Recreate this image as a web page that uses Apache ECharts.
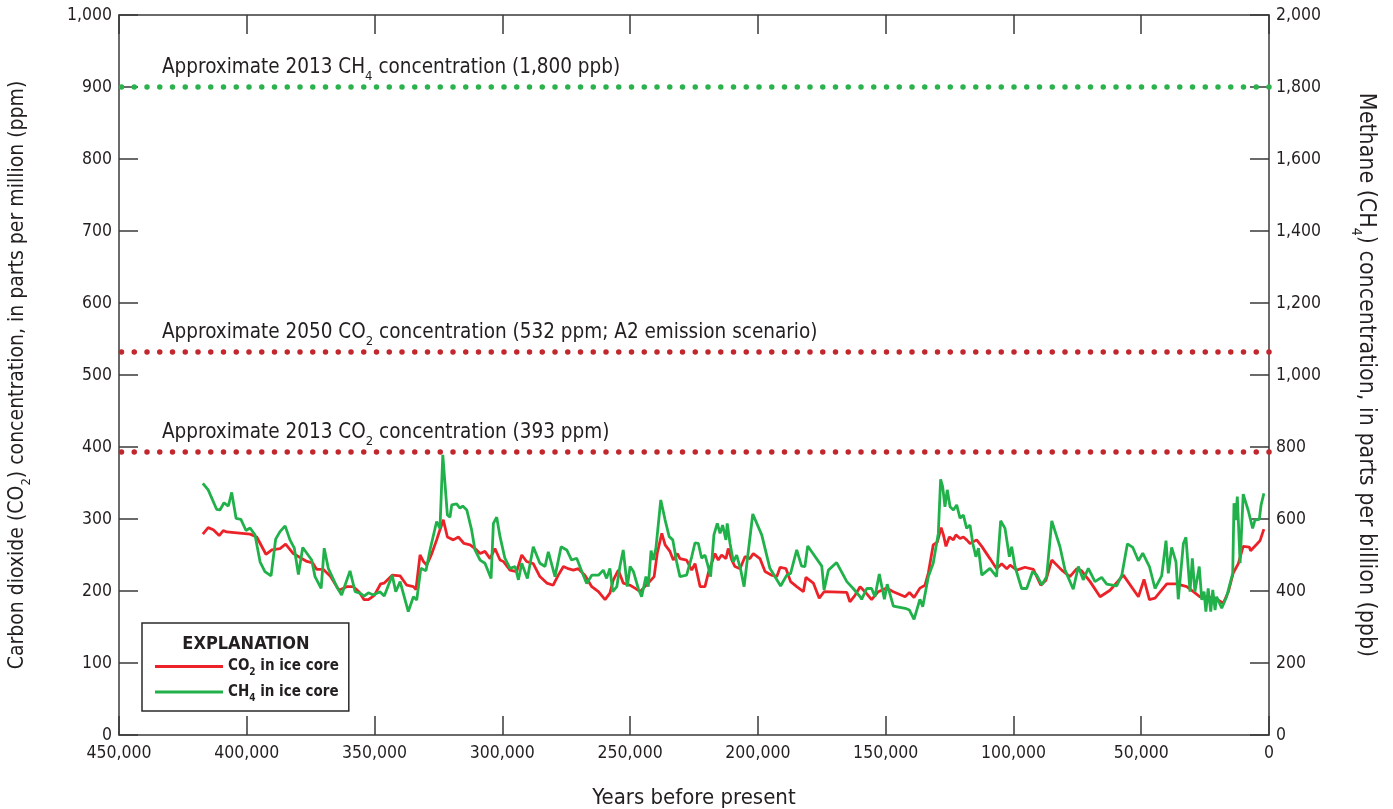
<!DOCTYPE html>
<html>
<head>
<meta charset="utf-8">
<script src="https://cdn.jsdelivr.net/npm/echarts@6/dist/echarts.min.js"></script>
<style>
html,body{margin:0;padding:0;background:#fff;}
#chart{width:1393px;height:809px;}
</style>
</head>
<body>
<div id="chart"></div>
<script>
// ---------- data (years before present, values) ----------
var co2Years = [417200,415100,413100,410800,409200,407900,398700,396100,392500,390200,387000,384800,381800,376500,374200,372600,370000,367400,363900,360900,358300,356100,354100,352400,350100,347600,346200,343100,340000,
337400,334800,333800,332200,330900,329600,327600,325700,324700,323700,323100,321500,319200,317200,315000,312600,310700,308700,306800,304800,302900,300900,299600,297000,294400,292400,290500,287900,285300,282600,280100,278100,276100,274200,272200,270300,267700,265000,262400,259800,257900,256600,254600,252700,250000,
248100,246100,244800,242900,240600,239400,237600,236300,234400,233100,231500,230500,227900,225900,224600,222600,220700,219400,216800,215500,214200,212500,211600,210200,209000,207000,205000,203100,201800,199200,197200,194600,192600,191300,189000,187200,184800,182200,181200,178300,176000,174100,165200,164000,162000,160000,
158100,155500,152900,149600,147000,142400,140700,138900,136600,134600,133300,131400,129800,128300,127400,126400,125100,123500,122500,120900,119600,118300,117000,114400,112400,109200,106600,104600,102600,101300,98700,95500,92200,89300,87300,85000,81100,77900,
75200,73300,70000,66100,62200,57000,51100,48900,46800,44600,40000,36100,32200,29600,27000,24400,21100,17900,15900,14000,12000,10100,7700,7200,4800,3500,2000];
var co2Ppm = [279,288,285,277,284,282,279,275,251,257,259,265,252,241,239,230,230,221,201,206,206,199,188,188,194,210,211,222,221,
208,206,202,250,241,236,252,271,282,292,299,275,271,275,266,264,259,252,255,245,259,243,241,229,227,250,241,238,220,211,208,222,234,231,229,231,222,206,199,188,197,215,229,211,208,
204,199,204,211,220,252,280,264,255,243,252,245,243,229,238,206,206,225,252,243,250,245,259,243,234,231,248,245,252,245,227,222,220,233,231,213,206,199,219,211,190,199,198,185,194,206,
199,188,199,204,199,192,198,191,204,208,225,264,268,288,278,262,275,271,278,273,275,271,266,271,262,245,231,238,231,236,229,233,230,208,215,243,229,220,
231,228,213,192,201,222,192,216,188,190,210,210,206,199,192,192,190,183,199,225,238,262,261,256,265,270,286];

var ch4Years = [417200,415100,411800,410500,408900,407200,405900,404200,402300,400300,398700,396800,394800,392900,390500,388700,387000,385000,383100,381400,379800,378100,374600,373300,370900,369700,368100,364800,362900,359600,357600,355700,354100,352400,350500,347900,346200,343100,341700,340000,
336800,334800,333500,331900,329900,328300,325700,324400,323300,321500,320500,319800,317900,316600,315500,313900,312000,310700,308700,306800,304400,303500,302200,300900,299000,297000,295000,293700,292400,290200,287900,285300,283300,282000,279400,277000,274800,272900,270900,268900,267000,265000,262400,260500,259200,257900,256800,255200,254000,252700,251100,250000,
248700,246800,245500,243800,242900,241800,240900,239900,238000,236300,234700,233300,231800,230500,227900,225900,224600,223300,222000,220700,219800,218500,217200,215900,214800,213800,212500,212000,210900,209600,208300,206700,205400,202000,198500,195300,191100,188700,187200,184800,182900,181600,180500,175000,174100,172400,169200,165200,162700,160000,
159400,157400,155500,154200,152500,150500,149400,147000,142400,140700,138900,136600,135500,133300,131400,129400,128500,127700,126800,125900,124800,123500,122200,120900,119600,118300,117000,115900,114700,113700,112400,109200,106600,105000,103300,101600,100700,99400,96800,94800,92500,90900,88900,87000,85000,81800,
79800,76600,74600,72700,70700,68100,65500,63500,59600,57600,55400,53300,51100,49400,46800,44600,42000,40300,39400,38100,36400,35500,33500,32500,30900,30000,29000,27300,26300,25400,24700,23800,22800,22000,21100,20500,18500,16600,14200,13700,13000,12400,11300,10100,8100,6400,5500,3800,3100,2000];
var ch4Ppb = [699,681,627,625,645,636,674,602,599,568,575,556,481,454,442,544,565,581,542,519,446,521,486,440,407,519,463,412,389,456,398,394,386,395,389,398,386,444,398,426,
343,384,375,463,456,514,593,574,778,611,605,639,642,630,636,625,569,514,486,477,435,588,605,551,491,463,468,431,477,435,523,477,468,509,440,523,514,486,491,454,421,444,444,458,435,463,398,412,468,514,412,468,
454,407,384,440,412,512,486,519,653,597,551,542,481,440,444,495,534,532,491,500,477,440,556,588,560,583,542,588,532,481,500,458,412,614,556,463,414,444,449,514,469,468,525,469,403,458,479,426,407,384,
377,407,407,384,447,377,419,358,352,347,321,377,356,440,477,560,710,690,634,681,634,625,639,602,611,574,583,532,495,519,444,463,440,595,574,495,523,468,407,407,454,444,417,440,595,523,
458,405,468,431,463,426,438,419,414,444,531,521,484,505,468,407,442,540,449,521,481,377,532,549,398,491,398,468,375,398,343,407,343,403,347,384,352,384,449,644,597,662,477,669,623,574,597,599,639,671];

var co2Refs = [{value:393, text:['Approximate 2013 CO','2',' concentration (393 ppm)']},
               {value:532, text:['Approximate 2050 CO','2',' concentration (532 ppm; A2 emission scenario)']}];
var ch4Refs = [{value:1800, text:['Approximate 2013 CH','4',' concentration (1,800 ppb)']}];

// ---------- build ----------
function pairs(xs, ys){ var o=[]; for(var i=0;i<xs.length;i++){ o.push([xs[i], ys[i]]); } return o; }
function fmt(v){ return Number(v).toLocaleString('en-US'); }
function rich3(t){ return '{a|'+t[0]+'}{s|'+t[1]+'}{a|'+t[2]+'}'; }

var FONT = "'DejaVu Sans Condensed','Liberation Sans Narrow',sans-serif";
var TXT = '#231f20';
var AXC = '#3a3a3a';

function mkRich(fs, sub){
  return {
    a:{fontFamily:FONT, fontSize:fs, color:TXT, lineHeight:Math.round(fs*1.2), verticalAlign:'middle'},
    s:{fontFamily:FONT, fontSize:sub, color:TXT, lineHeight:Math.round(fs*1.2)+5, verticalAlign:'bottom'}
  };
}

function refLine(r, color){
  return {
    yAxis: r.value,
    label:{ show:true, position:'insideEndTop', distance:[43,4], formatter: rich3(r.text), rich: mkRich(20.5, 13) },
    lineStyle:{ color: color }
  };
}

var axisTickCommon = {show:true, inside:true, length:19, lineStyle:{color:AXC, width:1.5}};
var axisLineCommon = {show:true, onZero:false, lineStyle:{color:AXC, width:1.5}};
var labelCommon = {fontFamily:FONT, fontSize:17.5, color:TXT};

var option = {
  animation:false,
  backgroundColor:'#fff',
  grid:{left:119, right:124, top:15, bottom:74, containLabel:false, outerBoundsMode:'none'},
  xAxis:[{
    type:'value', min:0, max:450000, interval:50000, inverse:true, position:'bottom',
    axisLine:axisLineCommon, axisTick:axisTickCommon, splitLine:{show:false},
    axisLabel:Object.assign({margin:9, formatter:fmt}, labelCommon),
    name:'Years before present', nameLocation:'middle', nameGap:52,
    nameTextStyle:{fontFamily:FONT, fontSize:22, color:TXT}
  },{
    type:'value', min:0, max:450000, interval:50000, inverse:true, position:'top',
    axisLine:axisLineCommon, axisTick:axisTickCommon, splitLine:{show:false},
    axisLabel:{show:false}
  }],
  yAxis:[{
    type:'value', min:0, max:1000, interval:100, position:'left',
    axisLine:axisLineCommon, axisTick:axisTickCommon, splitLine:{show:false},
    axisLabel:Object.assign({margin:7, formatter:fmt}, labelCommon),
    name: rich3(['Carbon dioxide (CO','2',') concentration, in parts per million (ppm)']),
    nameLocation:'middle', nameGap:86, nameRotate:90,
    nameTextStyle:{rich:mkRich(21, 13)}
  },{
    type:'value', min:0, max:2000, interval:200, position:'right',
    axisLine:axisLineCommon, axisTick:axisTickCommon, splitLine:{show:false},
    axisLabel:Object.assign({margin:7, formatter:fmt}, labelCommon),
    name: rich3(['Methane (CH','4',') concentration, in parts per billion (ppb)']),
    nameLocation:'middle', nameGap:80, nameRotate:-90,
    nameTextStyle:{rich:mkRich(23, 14)}
  }],
  legend:{
    left:142, top:623, orient:'vertical',
    padding:[36,10,8,13], itemGap:7, itemWidth:68, itemHeight:3, itemTextGap:8,
    icon:'rect',
    backgroundColor:'#fff', borderColor:'#2a2a2a', borderWidth:1.5,
    data:['co2','ch4'],
    formatter:function(n){ return n==='co2' ? '{a|CO}{s|2}{a| in ice core}' : '{a|CH}{s|4}{a| in ice core}'; },
    textStyle:{rich:{
      a:{fontFamily:FONT, fontSize:15, fontWeight:'bold', color:TXT, lineHeight:18, verticalAlign:'middle'},
      s:{fontFamily:FONT, fontSize:10, fontWeight:'bold', color:TXT, lineHeight:22, verticalAlign:'bottom'}
    }}
  },
  graphic:{elements:[{
    type:'text', z:100, x:246, y:644,
    style:{text:'EXPLANATION', font:"bold 18px "+FONT, fill:TXT, align:'center', verticalAlign:'middle'}
  }]},
  series:[{
    name:'co2', type:'line', xAxisIndex:0, yAxisIndex:0,
    data:pairs(co2Years, co2Ppm),
    symbol:'none', showSymbol:false,
    lineStyle:{color:'#ec2229', width:2.8}, itemStyle:{color:'#ec2229'},
    z:3,
    markLine:{
      silent:true, symbol:['none','none'], animation:false,
      lineStyle:{width:5.5, type:[0,12.75], cap:'round', color:'#c1272d'},
      data: co2Refs.map(function(r){ return refLine(r,'#c1272d'); })
    }
  },{
    name:'ch4', type:'line', xAxisIndex:0, yAxisIndex:1,
    data:pairs(ch4Years, ch4Ppb),
    symbol:'none', showSymbol:false,
    lineStyle:{color:'#21b14b', width:2.8}, itemStyle:{color:'#21b14b'},
    z:4,
    markLine:{
      silent:true, symbol:['none','none'], animation:false,
      lineStyle:{width:5.5, type:[0,12.75], cap:'round', color:'#2bb24c'},
      data: ch4Refs.map(function(r){ return refLine(r,'#2bb24c'); })
    }
  }]
};

var chart = echarts.init(document.getElementById('chart'), null, {renderer:'canvas'});
chart.setOption(option);
</script>
</body>
</html>
